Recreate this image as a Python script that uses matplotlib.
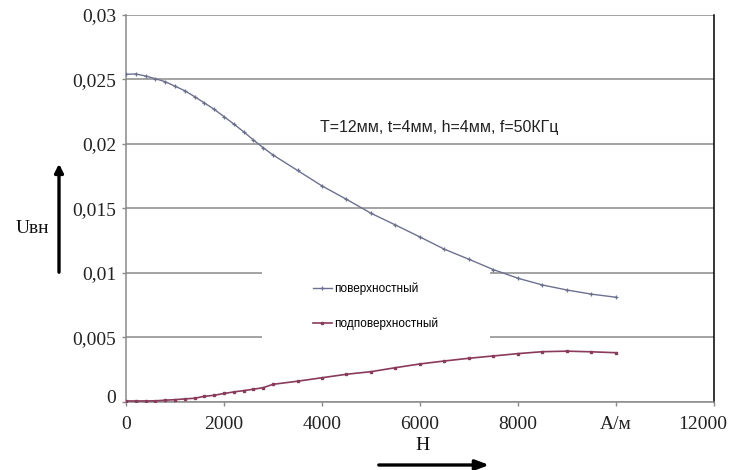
import matplotlib
matplotlib.use("Agg")
import matplotlib.pyplot as plt
from matplotlib import font_manager
from matplotlib.patches import Rectangle, FancyArrowPatch
from matplotlib.transforms import ScaledTranslation

# Field strength H, A/m
h_values = [0, 200, 400, 600, 800, 1000, 1200, 1400, 1600, 1800, 2000, 2200,
            2400, 2600, 2800, 3000, 3500, 4000, 4500, 5000, 5500, 6000, 6500,
            7000, 7500, 8000, 8500, 9000, 9500, 10000]

# Induced voltage for the surface defect
surface = [0.0254, 0.02543, 0.02527, 0.02506, 0.02483, 0.02448, 0.02413,
           0.02367, 0.02318, 0.02269, 0.02212, 0.02155, 0.02095, 0.02031,
           0.01971, 0.01915, 0.01795, 0.01675, 0.01571, 0.01463, 0.01372,
           0.01279, 0.01184, 0.01106, 0.01026, 0.00959, 0.00907, 0.00868,
           0.00836, 0.00812]

# Induced voltage for the subsurface defect
subsurface = [0.00008, 0.00008, 0.00008, 0.00009, 0.00014, 0.00018, 0.00024,
              0.00029, 0.00044, 0.00052, 0.00066, 0.00078, 0.00088, 0.00099,
              0.00111, 0.00137, 0.00161, 0.00188, 0.00215, 0.00235, 0.00266,
              0.00295, 0.00318, 0.00339, 0.00357, 0.00375, 0.0039, 0.00394,
              0.00389, 0.00382]

series_names = ["поверхностный", "подповерхностный"]
x_ticks = [0, 2000, 4000, 6000, 8000, 10000, 12000]
x_tick_labels = ["0", "2000", "4000", "6000", "8000", "А/м", "12000"]
y_ticks = [0, 0.005, 0.01, 0.015, 0.02, 0.025, 0.03]
y_tick_labels = ["0", "0,005", "0,01", "0,015", "0,02", "0,025", "0,03"]
note = "T=12мм, t=4мм, h=4мм, f=50КГц"


def pick_font(candidates):
    names = {f.name for f in font_manager.fontManager.ttflist}
    for c in candidates:
        if c in names:
            return c
    return "DejaVu Sans"


serif = pick_font(["Liberation Serif", "DejaVu Serif"])
narrow = pick_font(["Liberation Sans Narrow", "DejaVu Sans Condensed",
                    "Liberation Sans"])
sans = pick_font(["Liberation Sans", "Arimo", "DejaVu Sans"])

fig = plt.figure(figsize=(7.36, 4.70), dpi=100)
ax = fig.add_axes([0.1712, 0.1447, 0.7989, 0.8234])

grid_c = "#8a8a8a"
ax.set_xlim(0, 12000)
ax.set_ylim(0, 0.03)
ax.set_yticks(y_ticks)
ax.set_yticklabels(y_tick_labels)
ax.set_xticks(x_ticks)
ax.set_xticklabels(x_tick_labels)
ax.yaxis.grid(True, color=grid_c, linewidth=1.1, zorder=1)
ax.set_axisbelow(True)

for lab in ax.get_xticklabels() + ax.get_yticklabels():
    lab.set_fontfamily(serif)
    lab.set_fontsize(14)
    lab.set_color("#222222")
ax.tick_params(axis="x", length=3, width=1, color=grid_c, pad=7)
ax.tick_params(axis="y", length=3, width=1, color=grid_c, pad=4)

# keep the last x label inside the canvas
last = ax.get_xticklabels()[-1]
last.set_transform(last.get_transform()
                   + ScaledTranslation(-11 / 100, 0, fig.dpi_scale_trans))
# the zero label sits a little above the axis line
zero = ax.get_yticklabels()[0]
zero.set_transform(zero.get_transform()
                   + ScaledTranslation(0, 5 / 100, fig.dpi_scale_trans))

ax.spines["top"].set_visible(False)
ax.spines["left"].set_color(grid_c)
ax.spines["bottom"].set_color(grid_c)
ax.spines["right"].set_color("black")
for s in ("left", "bottom", "right"):
    ax.spines[s].set_linewidth(1.1)

# white panel behind the legend entries
ax.add_patch(Rectangle((2780, 0.0045), 7426 - 2780, 0.0061,
                       facecolor="white", edgecolor="none", zorder=1.5))

c_surf = "#6c7190"
c_sub = "#8a3a5a"
ax.plot(h_values, surface, color=c_surf, linewidth=1.0, marker="+",
        markersize=3, markeredgewidth=0.9, label=series_names[0], zorder=3)
ax.plot(h_values, subsurface, color=c_sub, linewidth=1.2, marker="s",
        markersize=1.7, label=series_names[1], zorder=3)

leg = ax.legend(loc="upper left", bbox_to_anchor=(0.30, 0.335),
                frameon=False, handlelength=1.6, handletextpad=0.2,
                labelspacing=1.85, prop={"family": narrow, "size": 8.5})

ax.text(6385, 0.0213, note, ha="center", va="center",
        fontfamily=sans, fontsize=11.5, color="#222222", zorder=4)

# axis captions with arrows
fig.text(32 / 736, 1 - 228 / 470, "Uвн", fontfamily=serif, fontsize=14,
         ha="center", va="center", color="#111111")
fig.text(423 / 736, 1 - 446 / 470, "H", fontfamily=serif, fontsize=14,
         ha="center", va="center", color="#111111")
fig.patches.append(FancyArrowPatch(
    (59 / 736, 1 - 275 / 470), (59 / 736, 1 - 161 / 470),
    transform=fig.transFigure, arrowstyle="-|>,head_length=5,head_width=2.5",
    linewidth=2.4, color="black", mutation_scale=1))
fig.patches.append(FancyArrowPatch(
    (376 / 736, 1 - 465 / 470), (492 / 736, 1 - 465 / 470),
    transform=fig.transFigure, arrowstyle="-|>,head_length=8,head_width=3",
    linewidth=2.4, color="black", mutation_scale=1))

fig.savefig("out.png", dpi=100, facecolor="white")
